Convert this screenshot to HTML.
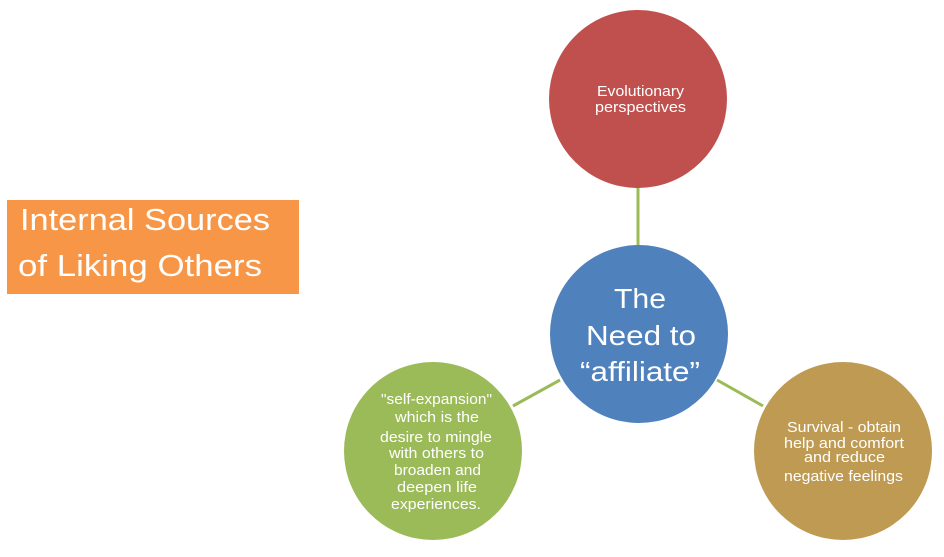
<!DOCTYPE html>
<html><head><style>
body{margin:0;width:944px;height:552px;background:#fff;overflow:hidden;font-family:"Liberation Sans",sans-serif}
</style></head><body>
<svg width="944" height="552" xmlns="http://www.w3.org/2000/svg" font-family="Liberation Sans, sans-serif">
<rect x="7" y="200" width="292" height="94" fill="#F79646"/>
<text x="20" y="230" font-size="31" fill="#fff" textLength="250" lengthAdjust="spacingAndGlyphs">Internal Sources</text>
<text x="18" y="276" font-size="31" fill="#fff" textLength="244" lengthAdjust="spacingAndGlyphs">of Liking Others</text>
<g stroke="#9BBB59" stroke-width="3">
<line x1="638" y1="186" x2="638" y2="247"/>
<line x1="560" y1="380" x2="513" y2="406"/>
<line x1="717" y1="380" x2="763" y2="406"/>
</g>
<circle cx="638" cy="99" r="89" fill="#C0504D"/>
<circle cx="639" cy="334" r="89" fill="#4F81BD"/>
<circle cx="433" cy="451" r="89" fill="#9BBB59"/>
<circle cx="843" cy="451" r="89" fill="#BF9A52"/>
<g fill="#fff" font-size="15" lengthAdjust="spacingAndGlyphs">
<text x="597" y="96" textLength="87" lengthAdjust="spacingAndGlyphs">Evolutionary</text>
<text x="595" y="112" textLength="91" lengthAdjust="spacingAndGlyphs">perspectives</text>
<text x="614" y="308" font-size="28" textLength="52" lengthAdjust="spacingAndGlyphs">The</text>
<text x="586" y="345" font-size="28" textLength="110" lengthAdjust="spacingAndGlyphs">Need to</text>
<text x="580" y="381" font-size="28" textLength="120" lengthAdjust="spacingAndGlyphs">“affiliate”</text>
<text x="381" y="404" textLength="111" lengthAdjust="spacingAndGlyphs">"self-expansion"</text>
<text x="395" y="422" textLength="84" lengthAdjust="spacingAndGlyphs">which is the</text>
<text x="380" y="442" textLength="112" lengthAdjust="spacingAndGlyphs">desire to mingle</text>
<text x="389" y="458" textLength="95" lengthAdjust="spacingAndGlyphs">with others to</text>
<text x="394" y="475" textLength="87" lengthAdjust="spacingAndGlyphs">broaden and</text>
<text x="397" y="492" textLength="80" lengthAdjust="spacingAndGlyphs">deepen life</text>
<text x="391" y="509" textLength="90" lengthAdjust="spacingAndGlyphs">experiences.</text>
<text x="787" y="432" textLength="114" lengthAdjust="spacingAndGlyphs">Survival - obtain</text>
<text x="784" y="448" textLength="120" lengthAdjust="spacingAndGlyphs">help and comfort</text>
<text x="804" y="462" textLength="81" lengthAdjust="spacingAndGlyphs">and reduce</text>
<text x="784" y="481" textLength="119" lengthAdjust="spacingAndGlyphs">negative feelings</text>
</g>
</svg>
</body></html>
